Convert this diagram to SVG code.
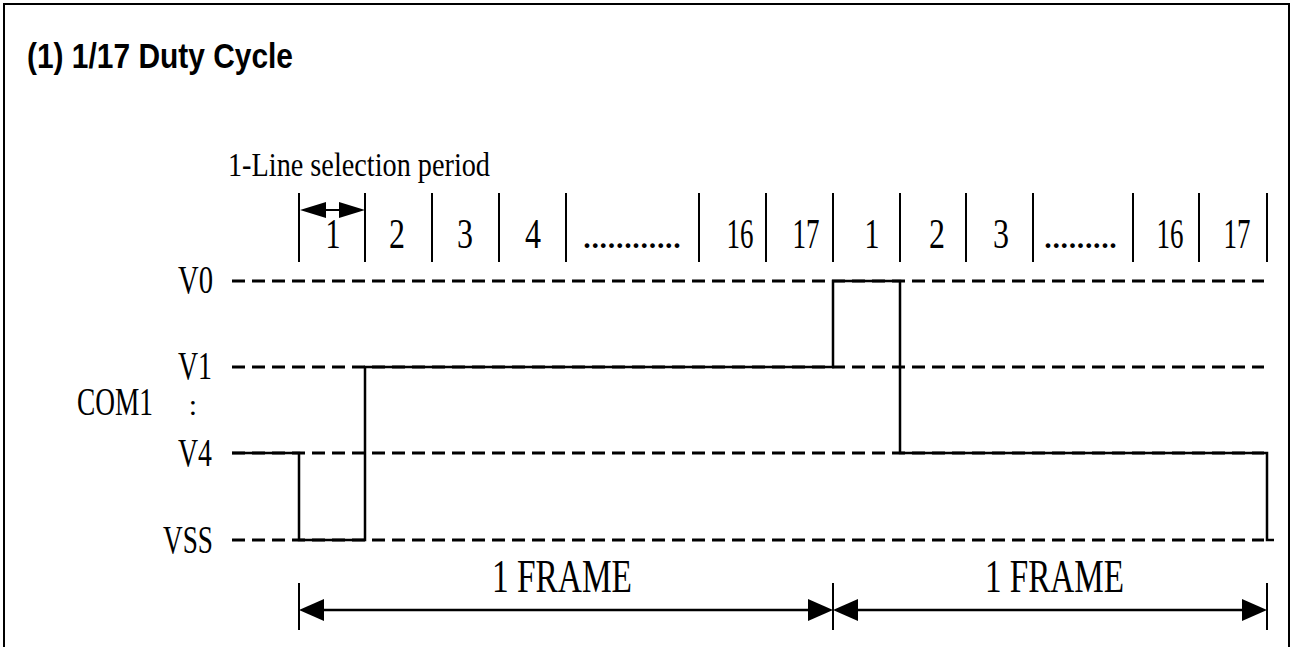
<svg xmlns="http://www.w3.org/2000/svg" width="1292" height="647" viewBox="0 0 1292 647">
<style>
.t{font-family:"Liberation Serif","Times New Roman",serif;fill:#000}
.lbl{font-size:40px}
.num{font-size:43px}
.fr{font-size:46px}
.title{font-family:"Liberation Sans",Arial,sans-serif;font-weight:bold;font-size:35px;fill:#000}
.dash{stroke:#000;stroke-width:3;stroke-dasharray:13 7;fill:none}
.wave{stroke:#000;stroke-width:2.5;fill:none}
.tick{stroke:#000;stroke-width:2;fill:none}
.dim{stroke:#000;stroke-width:2.5;fill:none}
.head{fill:#000;stroke:none}
</style>
<rect x="0" y="0" width="1292" height="647" fill="#fff"/>
<rect x="4" y="4" width="1285" height="660" fill="none" stroke="#000" stroke-width="2"/>
<g id="title"><text class="title" x="27" y="68" textLength="266" lengthAdjust="spacingAndGlyphs">(1) 1/17 Duty Cycle</text></g>

<g id="levels">
<line class="dash" x1="232" y1="281" x2="1264" y2="281"/>
<line class="dash" x1="232" y1="367" x2="1264" y2="367"/>
<line class="dash" x1="232" y1="453" x2="1264" y2="453"/>
<line class="dash" x1="232" y1="540" x2="1264" y2="540"/>
</g>

<g id="level-labels">
<text class="t lbl" x="178" y="293" textLength="35" lengthAdjust="spacingAndGlyphs">V0</text>
<text class="t lbl" x="178" y="379" textLength="34" lengthAdjust="spacingAndGlyphs">V1</text>
<text class="t lbl" x="178" y="466" textLength="34" lengthAdjust="spacingAndGlyphs">V4</text>
<text class="t lbl" x="163" y="553" textLength="50" lengthAdjust="spacingAndGlyphs">VSS</text>
<text class="t lbl" x="77" y="415" textLength="76" lengthAdjust="spacingAndGlyphs">COM1</text>
<text class="t" style="font-size:30px" x="193" y="415" text-anchor="middle">:</text>
</g>

<g id="com1-waveform">
<path class="wave" d="M232,453 H299 V540 H365 V367 H833 V281 H900 V453 H1267 V540 H1274"/>
</g>

<g id="period-label">
<text class="t" style="font-size:34px" x="228" y="176" textLength="262" lengthAdjust="spacingAndGlyphs">1-Line selection period</text>
</g>

<g id="slot-ticks">
<path class="tick" d="M299,193 V262 M365,193 V262 M432,193 V262 M499,193 V262 M566,193 V262 M699,193 V262 M766,193 V262 M833,193 V262 M900,193 V262 M966,193 V262 M1033,193 V262 M1133,193 V262 M1199,193 V262 M1267,193 V262"/>
</g>

<g id="slot-numbers" class="t num" text-anchor="middle">
<text x="333" y="248" textLength="15" lengthAdjust="spacingAndGlyphs">1</text>
<text x="397" y="248" textLength="16" lengthAdjust="spacingAndGlyphs">2</text>
<text x="465" y="248" textLength="16" lengthAdjust="spacingAndGlyphs">3</text>
<text x="533" y="248" textLength="16" lengthAdjust="spacingAndGlyphs">4</text>
<text x="740" y="248" textLength="27" lengthAdjust="spacingAndGlyphs">16</text>
<text x="806" y="248" textLength="27" lengthAdjust="spacingAndGlyphs">17</text>
<text x="872" y="248" textLength="15" lengthAdjust="spacingAndGlyphs">1</text>
<text x="937" y="248" textLength="16" lengthAdjust="spacingAndGlyphs">2</text>
<text x="1001" y="248" textLength="16" lengthAdjust="spacingAndGlyphs">3</text>
<text x="1170" y="248" textLength="27" lengthAdjust="spacingAndGlyphs">16</text>
<text x="1237" y="248" textLength="27" lengthAdjust="spacingAndGlyphs">17</text>
</g>
<g id="slot-dots" class="t" style="font-size:40px">
<text x="582" y="248" textLength="100" lengthAdjust="spacing">............</text>
<text x="1043" y="248" textLength="75" lengthAdjust="spacing">.........</text>
</g>

<g id="connectors">
<line class="tick" x1="320" y1="210" x2="345" y2="210"/>
<polygon class="head" points="300,210 326,202 326,218"/>
<polygon class="head" points="365,210 339,202 339,218"/>

<path class="tick" d="M299,583 V630 M833,583 V630 M1267,583 V630"/>
<line class="dim" x1="320" y1="610" x2="812" y2="610"/>
<line class="dim" x1="854" y1="610" x2="1246" y2="610"/>
<polygon class="head" points="299,610 324,599 324,621"/>
<polygon class="head" points="833,610 808,599 808,621"/>
<polygon class="head" points="833,610 858,599 858,621"/>
<polygon class="head" points="1267,610 1242,599 1242,621"/>
</g>

<g id="frame-labels">
<text class="t fr" x="492" y="592" textLength="140" lengthAdjust="spacingAndGlyphs">1 FRAME</text>
<text class="t fr" x="985" y="592" textLength="139" lengthAdjust="spacingAndGlyphs">1 FRAME</text>
</g>
</svg>
